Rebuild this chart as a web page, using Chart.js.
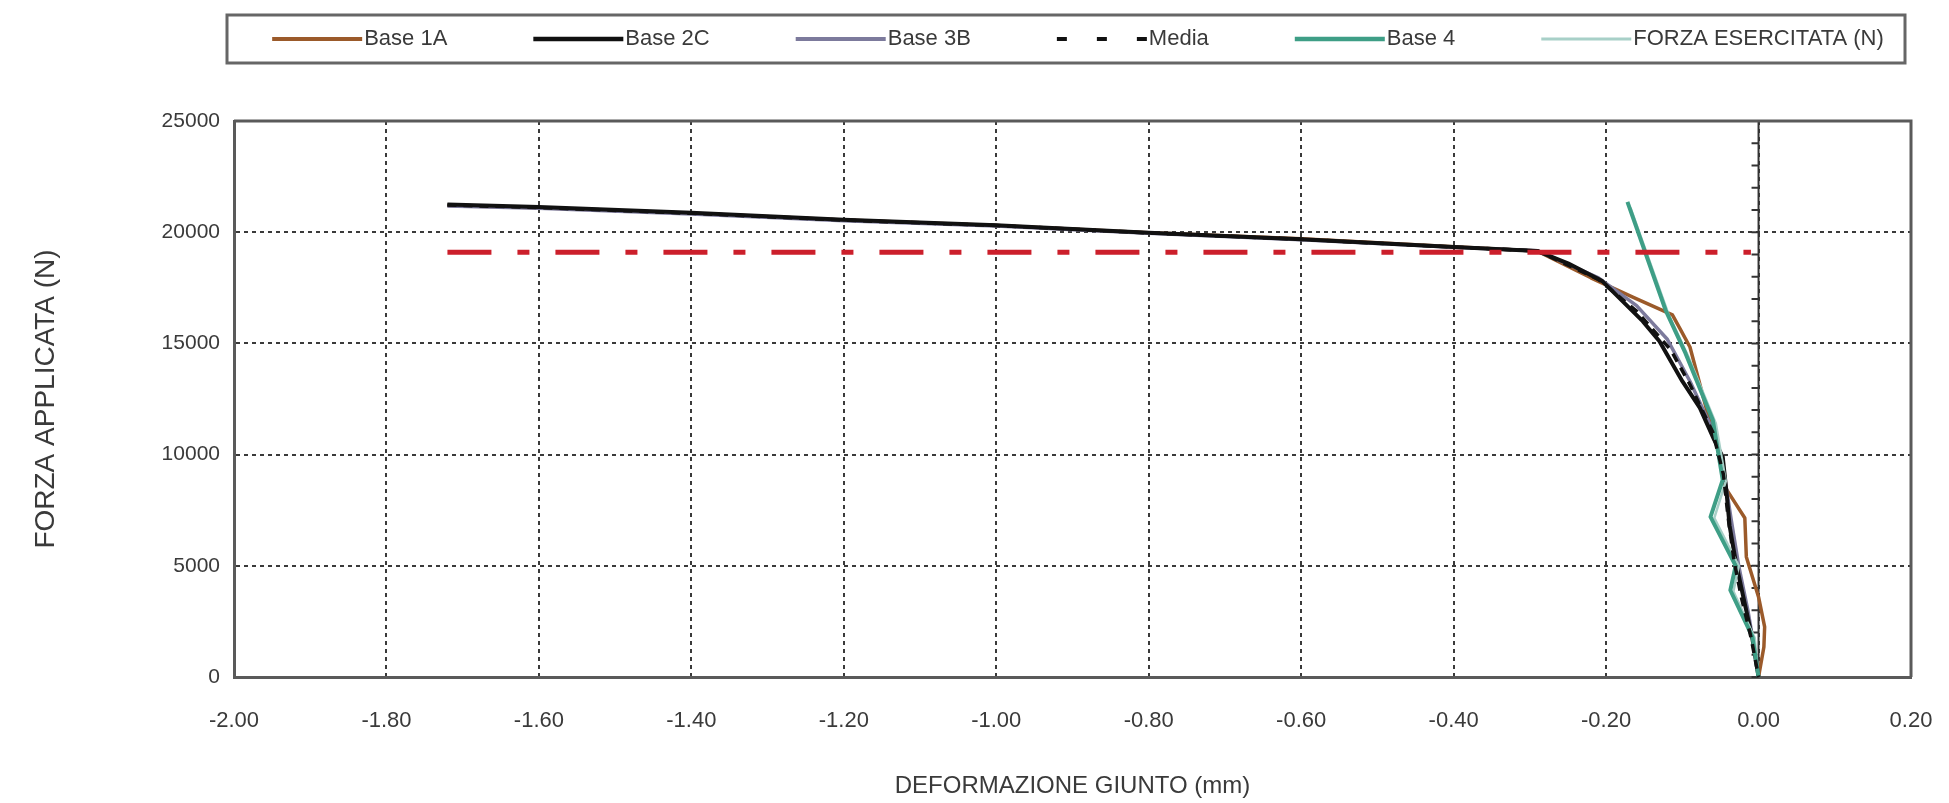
<!DOCTYPE html>
<html>
<head>
<meta charset="utf-8">
<script src="https://cdn.jsdelivr.net/npm/chart.js@4.4.1/dist/chart.umd.min.js"></script>
<style>
  html, body { margin: 0; padding: 0; background: #fff; overflow: hidden; }
  canvas { display: block; }
</style>
</head>
<body>
<canvas id="chart" width="1949" height="803"></canvas>
<script>
// Deformazione giunto (mm) / forza applicata (N)
const base1aX = [-1.72, -1.60, -1.40, -1.20, -1.00, -0.80, -0.60, -0.40, -0.29, -0.22, -0.165, -0.113, -0.102, -0.090, -0.060, -0.047, -0.044, -0.018, -0.016, 0.000, 0.008, 0.007, 0.000];
const base1aY = [21200, 21100, 20850, 20550, 20300, 19980, 19700, 19350, 19150, 17950, 17080, 16280, 15600, 14840, 10970, 9800, 8540, 7150, 5400, 3600, 2250, 1350, 0];

const base2cX = [-1.72, -1.60, -1.40, -1.20, -1.00, -0.80, -0.60, -0.40, -0.29, -0.25, -0.205, -0.152, -0.130, -0.100, -0.077, -0.058, -0.047, -0.042, -0.038, -0.030, -0.020, -0.008, 0.000];
const base2cY = [21250, 21130, 20870, 20560, 20310, 19970, 19680, 19330, 19150, 18600, 17800, 16000, 15100, 13300, 12100, 10650, 9900, 8300, 6800, 5200, 3600, 1700, 0];

const base3bX = [-1.72, -1.60, -1.40, -1.20, -1.00, -0.80, -0.60, -0.40, -0.29, -0.21, -0.16, -0.12, -0.09, -0.06, -0.045, -0.036, -0.026, -0.014, -0.005, 0.000];
const base3bY = [21180, 21080, 20820, 20520, 20280, 19950, 19660, 19320, 19170, 17950, 16700, 15200, 13300, 11100, 9100, 7100, 5000, 3000, 1200, 0];

const mediaX = [-1.72, -1.60, -1.40, -1.20, -1.00, -0.80, -0.60, -0.40, -0.29, -0.21, -0.16, -0.115, -0.09, -0.06, -0.046, -0.040, -0.032, -0.022, -0.010, 0.000];
const mediaY = [21220, 21110, 20850, 20540, 20300, 19970, 19680, 19330, 19160, 17880, 16450, 14700, 13150, 11000, 9100, 7200, 5200, 3500, 1800, 0];

const base4X = [-0.172, -0.122, -0.096, -0.060, -0.047, -0.063, -0.030, -0.037, -0.008, 0.000];
const base4Y = [21360, 16500, 14570, 11550, 8860, 7200, 5000, 3900, 1800, 0];

const forzaX = [-0.168, -0.118, -0.092, -0.056, -0.043, -0.058, -0.026, -0.033, -0.005, 0.000];
const forzaY = [21100, 16300, 14400, 11400, 8800, 7150, 5000, 3850, 1750, 0];

const limiteX = [-1.72, -0.01];
const limiteY = [19100, 19100];

const xMin = -2.0, xMax = 0.2, xStep = 0.2;
const yMin = 0, yMax = 25000, yStep = 5000;

const FONT = '"Liberation Sans", Arial, sans-serif';
const TEXT = '#3a3a3a';

function pts(xs, ys) {
  return xs.map((x, i) => ({ x: x, y: ys[i] }));
}

// cornice della legenda + voci
const boxLegend = {
  id: 'boxLegend',
  afterDraw(chart) {
    const { ctx, chartArea } = chart;
    const left = chartArea.left - 7, right = chartArea.right - 6;
    const top = 15, bottom = 63, midY = 39;
    ctx.save();
    ctx.strokeStyle = '#666';
    ctx.lineWidth = 3;
    ctx.strokeRect(left, top, right - left, bottom - top);

    ctx.font = '22px ' + FONT;
    const items = chart.data.datasets.filter(d => d.label);
    const lineLen = 90, gap = 2, spacing = 86;
    const widths = items.map(d => lineLen + gap + ctx.measureText(d.label).width);
    const total = widths.reduce((a, b) => a + b, 0) + spacing * (items.length - 1);
    let x = (left + right) / 2 + 12 - total / 2;
    items.forEach((d, i) => {
      ctx.beginPath();
      ctx.setLineDash(d.legendDash || []);
      ctx.strokeStyle = d.borderColor;
      ctx.lineWidth = d.borderWidth + 0.5;
      ctx.moveTo(x, midY);
      ctx.lineTo(x + lineLen, midY);
      ctx.stroke();
      ctx.setLineDash([]);
      ctx.fillStyle = TEXT;
      ctx.textBaseline = 'middle';
      ctx.fillText(d.label, x + lineLen + gap, midY);
      x += widths[i] + spacing;
    });
    ctx.restore();
  }
};

// asse verticale in x = 0 con tacche secondarie, e cornice dell'area
const zeroAxis = {
  id: 'zeroAxis',
  beforeDatasetsDraw(chart) {
    const { ctx, chartArea, scales } = chart;
    const px = scales.x.getPixelForValue(0);
    const minorStep = 1000;
    ctx.save();
    ctx.strokeStyle = '#333';
    ctx.lineWidth = 2;
    ctx.beginPath();
    ctx.moveTo(px, chartArea.top);
    ctx.lineTo(px, chartArea.bottom);
    for (let v = yMin; v <= yMax; v += minorStep) {
      const py = scales.y.getPixelForValue(v);
      ctx.moveTo(px - 7, py);
      ctx.lineTo(px, py);
    }
    ctx.stroke();
    ctx.restore();
  },
  afterDraw(chart) {
    const { ctx, chartArea } = chart;
    ctx.save();
    ctx.strokeStyle = '#5a5a5a';
    ctx.lineWidth = 3;
    ctx.beginPath();
    ctx.moveTo(chartArea.left, chartArea.top);
    ctx.lineTo(chartArea.right, chartArea.top);
    ctx.lineTo(chartArea.right, chartArea.bottom);
    ctx.stroke();
    ctx.restore();
  }
};

const common = { showLine: true, pointRadius: 0, tension: 0, borderJoinStyle: 'round', fill: false };

new Chart(document.getElementById('chart'), {
  type: 'scatter',
  data: {
    datasets: [
      Object.assign({ label: 'Base 1A', data: pts(base1aX, base1aY), borderColor: '#9b5a2a', borderWidth: 3.5, order: 6 }, common),
      Object.assign({ label: 'Base 2C', data: pts(base2cX, base2cY), borderColor: '#111', borderWidth: 4, order: 4 }, common),
      Object.assign({ label: 'Base 3B', data: pts(base3bX, base3bY), borderColor: '#7c7a9c', borderWidth: 3.5, order: 5 }, common),
      Object.assign({ label: 'Media', data: pts(mediaX, mediaY), borderColor: '#111', borderWidth: 3.5, borderDash: [9, 7], legendDash: [10, 30], order: 1 }, common),
      Object.assign({ label: 'Base 4', data: pts(base4X, base4Y), borderColor: '#3e9e86', borderWidth: 4, order: 2 }, common),
      Object.assign({ label: 'FORZA ESERCITATA (N)', data: pts(forzaX, forzaY), borderColor: '#a8d0c8', borderWidth: 2.5, order: 3 }, common),
      Object.assign({ label: '', data: pts(limiteX, limiteY), borderColor: '#cc1f2b', borderWidth: 5, borderDash: [44, 26, 12, 26], borderCapStyle: 'butt', order: 0 }, common)
    ]
  },
  options: {
    responsive: false,
    animation: false,
    layout: { padding: { top: 121, left: 0, right: 38, bottom: 0 } },
    plugins: {
      legend: { display: false },
      tooltip: { enabled: false }
    },
    scales: {
      x: {
        type: 'linear',
        min: xMin, max: xMax,
        afterFit: s => { s.height = 126; s.paddingRight = 10; s.paddingLeft = 10; },
        ticks: {
          stepSize: xStep,
          padding: 31,
          color: TEXT,
          font: { family: FONT, size: 22 },
          maxRotation: 0,
          callback: v => (Math.abs(v) < 1e-9 ? 0 : v).toFixed(2)
        },
        grid: { color: '#3a3a3a', lineWidth: 2, drawTicks: false },
        border: { display: true, color: '#5a5a5a', width: 3, dash: [4, 4] },
        title: {
          display: true,
          text: 'DEFORMAZIONE GIUNTO (mm)',
          color: TEXT,
          font: { family: FONT, size: 24 },
          padding: { top: 0, bottom: 2 }
        }
      },
      y: {
        type: 'linear',
        min: yMin, max: yMax,
        afterFit: s => { s.width = 234; },
        ticks: {
          stepSize: yStep,
          padding: 14,
          color: TEXT,
          font: { family: FONT, size: 21 },
          callback: v => String(v)
        },
        grid: { color: '#3a3a3a', lineWidth: 2, drawTicks: false },
        border: { display: true, color: '#5a5a5a', width: 3, dash: [4, 4] },
        title: {
          display: true,
          text: 'FORZA APPLICATA (N)',
          color: TEXT,
          font: { family: FONT, size: 28 },
          padding: { top: 29, bottom: 0 }
        }
      }
    }
  },
  plugins: [zeroAxis, boxLegend]
});
</script>
</body>
</html>
